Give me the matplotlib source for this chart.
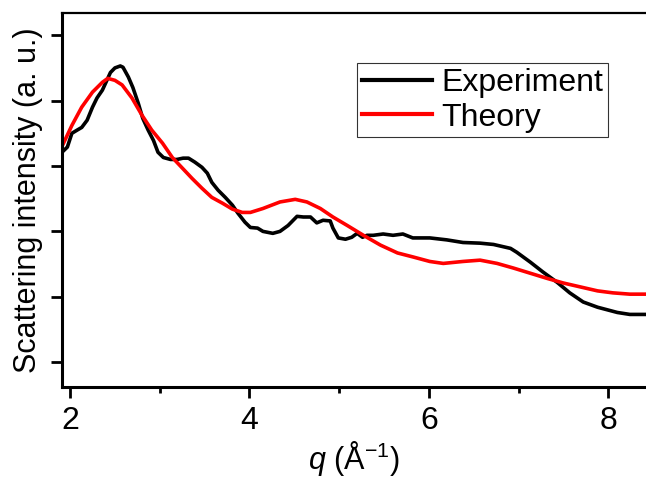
import matplotlib
matplotlib.use("Agg")
import matplotlib.pyplot as plt
from matplotlib.ticker import MultipleLocator, NullFormatter

plt.rcParams['font.family'] = ['Liberation Sans', 'DejaVu Sans']
plt.rcParams['mathtext.fontset'] = 'custom'
plt.rcParams['mathtext.rm'] = 'Liberation Sans'
plt.rcParams['mathtext.it'] = 'Liberation Sans:italic'

# measured scattering curve
q_exp = [1.91, 1.97, 2.02, 2.08, 2.13, 2.19, 2.25, 2.30, 2.36, 2.41, 2.45, 2.50,
         2.56, 2.59, 2.65, 2.70, 2.76, 2.81, 2.87, 2.93, 2.98, 3.04, 3.12, 3.19,
         3.26, 3.32, 3.39, 3.47, 3.53, 3.58, 3.65, 3.73, 3.81, 3.87, 3.95, 4.01,
         4.09, 4.15, 4.26, 4.34, 4.43, 4.53, 4.60, 4.68, 4.75, 4.82, 4.90, 4.93,
         4.99, 5.07, 5.14, 5.20, 5.26, 5.31, 5.38, 5.49, 5.60, 5.71, 5.82, 6.01,
         6.20, 6.38, 6.57, 6.72, 6.91, 6.98, 7.13, 7.27, 7.43, 7.57, 7.72, 7.88,
         8.10, 8.24, 8.42]
i_exp = [3.21, 3.29, 3.50, 3.55, 3.59, 3.70, 3.90, 4.04, 4.16, 4.31, 4.43, 4.50,
         4.53, 4.51, 4.36, 4.20, 3.96, 3.73, 3.55, 3.39, 3.21, 3.13, 3.10, 3.10,
         3.12, 3.12, 3.06, 2.98, 2.89, 2.75, 2.63, 2.52, 2.40, 2.28, 2.14, 2.06,
         2.05, 2.00, 1.97, 2.00, 2.09, 2.23, 2.22, 2.22, 2.13, 2.17, 2.16, 2.05,
         1.90, 1.88, 1.91, 1.97, 1.91, 1.94, 1.94, 1.96, 1.94, 1.96, 1.90, 1.90,
         1.87, 1.83, 1.82, 1.80, 1.74, 1.68, 1.53, 1.38, 1.22, 1.06, 0.92, 0.84,
         0.76, 0.73, 0.73]

# calculated curve
q_th = [1.91, 2.02, 2.13, 2.25, 2.36, 2.42, 2.50, 2.58, 2.69, 2.80, 2.91, 3.03,
        3.14, 3.25, 3.36, 3.47, 3.58, 3.70, 3.81, 3.92, 4.01, 4.15, 4.34, 4.51,
        4.64, 4.79, 4.93, 5.09, 5.27, 5.46, 5.65, 5.82, 6.01, 6.16, 6.38, 6.57,
        6.76, 6.94, 7.13, 7.32, 7.50, 7.69, 7.88, 8.05, 8.24, 8.42]
i_th = [3.30, 3.62, 3.90, 4.13, 4.28, 4.34, 4.31, 4.24, 4.04, 3.78, 3.55, 3.35,
        3.13, 2.97, 2.81, 2.66, 2.52, 2.43, 2.34, 2.29, 2.29, 2.35, 2.45, 2.49,
        2.45, 2.35, 2.22, 2.09, 1.94, 1.79, 1.67, 1.61, 1.54, 1.51, 1.54, 1.56,
        1.51, 1.44, 1.36, 1.28, 1.21, 1.15, 1.09, 1.06, 1.04, 1.04]

fig = plt.figure(figsize=(6.46, 4.82), dpi=100)
ax = fig.add_axes([62 / 646, 95 / 482, 1 - 62 / 646, (387 - 13) / 482])

ax.plot(q_exp, i_exp, color='black', lw=2.6, label='Experiment', solid_joinstyle='round')
ax.plot(q_th, i_th, color='#ff0000', lw=2.6, label='Theory', solid_joinstyle='round')

ax.set_xlim(1.91, 8.42)
ax.set_ylim(-0.38, 5.34)

ax.xaxis.set_major_locator(MultipleLocator(2))
ax.xaxis.set_minor_locator(MultipleLocator(1))
ax.yaxis.set_major_locator(MultipleLocator(1))
ax.yaxis.set_major_formatter(NullFormatter())

ax.tick_params(axis='x', which='major', direction='out', length=8, width=2,
               labelsize=23, pad=6, top=False)
ax.tick_params(axis='x', which='minor', direction='out', length=4.5, width=2, top=False)
ax.tick_params(axis='y', which='major', direction='out', length=8, width=2, right=False)

for side in ['left', 'bottom']:
    ax.spines[side].set_linewidth(2.2)
ax.spines['top'].set_linewidth(1.6)
ax.spines['right'].set_visible(False)

ax.set_xlabel(r'$q$ (Å$^{-1}$)', fontsize=22, labelpad=2)
ax.set_ylabel('Scattering intensity (a. u.)', fontsize=22, labelpad=2)

leg = ax.legend(loc='upper left', bbox_to_anchor=(295 / 584, 1 - 50 / 374),
                fontsize=23, frameon=True, fancybox=False, handlelength=2.2,
                handletextpad=0.3, borderpad=0.15, labelspacing=0.15,
                borderaxespad=0)
leg.get_frame().set_edgecolor('black')
leg.get_frame().set_linewidth(0.8)
for line in leg.get_lines():
    line.set_linewidth(3)

fig.savefig('out.png', dpi=100)
